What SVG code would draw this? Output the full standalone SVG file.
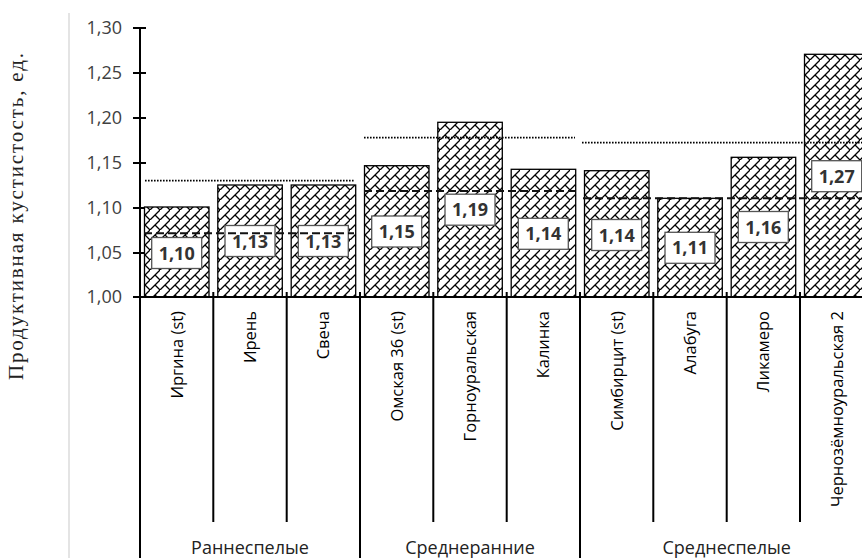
<svg xmlns="http://www.w3.org/2000/svg" width="862" height="558" viewBox="0 0 862 558">
<style>
.tick{font-family:"Open Sans","Liberation Sans",sans-serif;font-size:18px;fill:#404040;text-anchor:end}
.cat{font-family:"Open Sans","Liberation Sans",sans-serif;font-size:16.5px;fill:#000;text-anchor:end}
.grp{font-family:"Open Sans","Liberation Sans",sans-serif;font-size:18px;fill:#222;text-anchor:middle}
.val{font-family:"Open Sans","Liberation Sans",sans-serif;font-size:18px;font-weight:bold;fill:#333;text-anchor:middle}
.bar{fill:url(#brick);stroke:#000;stroke-width:1.3}
.lbl{fill:#fff;stroke:#555;stroke-width:1.3}
.ax{stroke:#000;stroke-width:2;fill:none}
.sep{stroke:#000;stroke-width:2}
.dot{stroke:#000;stroke-width:1.7;stroke-dasharray:1.6 1.4;fill:none}
.dash{stroke:#111;stroke-width:2;stroke-dasharray:8 4;fill:none}
</style>
<defs>
<pattern id="brick" patternUnits="userSpaceOnUse" width="10" height="10">
<rect width="10" height="10" fill="#fff"/>
<path d="M-1,11 L11,-1 M5,5 L10,10" stroke="#000" stroke-width="1.3" fill="none"/>
</pattern>
</defs>
<rect width="862" height="558" fill="#fff"/>
<line x1="69" y1="13" x2="69" y2="558" stroke="#e4e4e4" stroke-width="2"/>
<text x="23" y="216.5" transform="rotate(-90 23 216.5)" font-family="'Liberation Serif','Times New Roman',serif" font-size="21" fill="#222" text-anchor="middle" textLength="327" lengthAdjust="spacing">Продуктивная кустистость, ед.</text>

<g id="yaxis">
<line class="ax" x1="140" y1="27" x2="140" y2="298"/>
<path class="ax" d="M133,28 H146 M133,73 H146 M133,118 H146 M133,163 H146 M133,208 H146 M133,253 H146 M133,297 H146"/>
<text class="tick" x="122" y="34">1,30</text>
<text class="tick" x="122" y="79">1,25</text>
<text class="tick" x="122" y="124">1,20</text>
<text class="tick" x="122" y="169">1,15</text>
<text class="tick" x="122" y="214">1,10</text>
<text class="tick" x="122" y="259">1,05</text>
<text class="tick" x="122" y="303">1,00</text>
</g>

<g id="bar-irgina"><rect class="bar" x="144.5" y="207" width="64.5" height="90"/><rect class="lbl" x="151.7" y="237.5" width="50" height="31"/><text class="val" x="176.7" y="259.5">1,10</text></g>
<g id="bar-iren"><rect class="bar" x="217.8" y="185" width="64.5" height="112"/><rect class="lbl" x="225" y="225.5" width="50" height="31"/><text class="val" x="250" y="247.5">1,13</text></g>
<g id="bar-svecha"><rect class="bar" x="291.2" y="185" width="64.5" height="112"/><rect class="lbl" x="298.3" y="225.5" width="50" height="31"/><text class="val" x="323.3" y="247.5">1,13</text></g>
<g id="bar-omskaya"><rect class="bar" x="364.5" y="165.7" width="64.5" height="131.3"/><rect class="lbl" x="371.7" y="216" width="50" height="31"/><text class="val" x="396.7" y="238">1,15</text></g>
<g id="bar-gornouralskaya"><rect class="bar" x="437.8" y="122.3" width="64.5" height="174.7"/><rect class="lbl" x="445" y="194.2" width="50" height="31"/><text class="val" x="470" y="216.2">1,19</text></g>
<g id="bar-kalinka"><rect class="bar" x="511.2" y="169.3" width="64.5" height="127.7"/><rect class="lbl" x="518.3" y="218.3" width="50" height="31"/><text class="val" x="543.3" y="240.3">1,14</text></g>
<g id="bar-simbircit"><rect class="bar" x="584.5" y="170.7" width="64.5" height="126.3"/><rect class="lbl" x="591.7" y="219.5" width="50" height="31"/><text class="val" x="616.7" y="241.5">1,14</text></g>
<g id="bar-alabuga"><rect class="bar" x="657.8" y="198.3" width="64.5" height="98.7"/><rect class="lbl" x="665" y="232.3" width="50" height="31"/><text class="val" x="690" y="254.3">1,11</text></g>
<g id="bar-likamero"><rect class="bar" x="731.2" y="157.3" width="64.5" height="139.7"/><rect class="lbl" x="738.3" y="211.5" width="50" height="31"/><text class="val" x="763.3" y="233.5">1,16</text></g>
<g id="bar-chernozemnouralskaya"><rect class="bar" x="804.5" y="54.3" width="64.5" height="242.7"/><rect class="lbl" x="811.7" y="160.7" width="50" height="31"/><text class="val" x="836.7" y="182.7">1,27</text></g>

<g id="connectors">
<path class="dot" d="M145,180.7 H354"/>
<path class="dot" d="M364,137.7 H575"/>
<path class="dot" d="M582,142.7 H862"/>
<path class="dash" d="M144,233.3 H354"/>
<path class="dash" d="M364,191 H575"/>
<path class="dash" d="M583,198.3 H862"/>
</g>

<g id="xaxis">
<line class="ax" x1="139" y1="297" x2="862" y2="297"/>
<path class="sep" d="M213.3,292 V522 M286.7,292 V522 M433.3,292 V522 M506.7,292 V522 M653.3,292 V522 M726.7,292 V522 M800,292 V522"/>
<path class="sep" d="M140,292 V558 M360,292 V558 M580,292 V558"/>
<text class="cat" x="182.7" y="311" transform="rotate(-90 182.7 311)">Иргина (st)</text>
<text class="cat" x="256" y="311" transform="rotate(-90 256 311)">Ирень</text>
<text class="cat" x="329.3" y="311" transform="rotate(-90 329.3 311)">Свеча</text>
<text class="cat" x="402.7" y="311" transform="rotate(-90 402.7 311)">Омская 36 (st)</text>
<text class="cat" x="476" y="311" transform="rotate(-90 476 311)">Горноуральская</text>
<text class="cat" x="549.3" y="311" transform="rotate(-90 549.3 311)">Калинка</text>
<text class="cat" x="622.7" y="311" transform="rotate(-90 622.7 311)">Симбирцит (st)</text>
<text class="cat" x="696" y="311" transform="rotate(-90 696 311)">Алабуга</text>
<text class="cat" x="769.3" y="311" transform="rotate(-90 769.3 311)">Ликамеро</text>
<text class="cat" x="842.7" y="311" transform="rotate(-90 842.7 311)">Чернозёмноуральская 2</text>
<text class="grp" x="250" y="554">Раннеспелые</text>
<text class="grp" x="470" y="554">Среднеранние</text>
<text class="grp" x="726.7" y="554">Среднеспелые</text>
</g>
</svg>
